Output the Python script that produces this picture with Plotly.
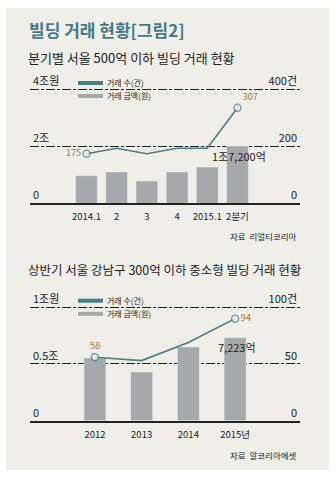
import plotly.graph_objects as go

W, H = 336, 479

# ---------------- data ----------------
cats1 = ["2014.1", "2", "3", "4", "2015.1", "2분기"]
amount1 = [0.97, 1.10, 0.78, 1.10, 1.27, 2.01]          # 조원 (left axis)
count1 = [174, 193, 174, 193, 193, 335]                 # 건 (right axis)
count1_text = ["175", "", "", "", "", "307"]
amount1_text = {0: "7,700억", 5: "1조7,200억"}

cats2 = ["2012", "2013", "2014", "2015년"]
amount2 = [0.553, 0.429, 0.650, 0.732]
count2 = [56, 53, 69, 90]
count2_text = ["58", "", "", "94"]
amount2_text = {0: "5,533억", 3: "7,223억"}

left1_vals, left1_text = [0, 2, 4], ["0", "2조", "4조원"]
right1_vals, right1_text = [0, 200, 400], ["0", "200", "400건"]
left2_vals, left2_text = [0, 0.5, 1], ["0", "0.5조", "1조원"]
right2_vals, right2_text = [0, 50, 100], ["0", "50", "100건"]

# ---------------- styles ----------------
FONT = "Noto Sans CJK KR"
BG = "#efeee9"
TEAL = "#4a7d88"
GRAY = "#a7a8ab"
GOLD = "#a0783c"
DARK = "#222222"


def X(px):
    return px / W


def Y(py):
    return 1 - py / H


fig = go.Figure()

# chart 1
fig.add_trace(go.Bar(x=cats1, y=amount1, marker_color=GRAY, width=0.72,
                     xaxis="x", yaxis="y", showlegend=False, hoverinfo="skip"))
fig.add_trace(go.Scatter(x=cats1, y=count1, mode="lines+markers+text",
                         text=count1_text,
                         textposition=["middle left"] + ["top center"] * 4 + ["top right"],
                         textfont=dict(family=FONT, size=9, color=GOLD),
                         line=dict(color=TEAL, width=1.6),
                         marker=dict(size=[7, 0, 0, 0, 0, 7], color="white",
                                     line=dict(color=TEAL, width=1.5)),
                         xaxis="x", yaxis="y2", showlegend=False, hoverinfo="skip",
                         cliponaxis=False))
# chart 2
fig.add_trace(go.Bar(x=cats2, y=amount2, marker_color=GRAY, width=0.47,
                     xaxis="x3", yaxis="y3", showlegend=False, hoverinfo="skip"))
fig.add_trace(go.Scatter(x=cats2, y=count2, mode="lines+markers+text",
                         text=count2_text,
                         textposition=["top center", "top center", "top center", "middle right"],
                         textfont=dict(family=FONT, size=9.5, color=GOLD),
                         line=dict(color=TEAL, width=1.6),
                         marker=dict(size=[7, 0, 0, 7], color="white",
                                     line=dict(color=TEAL, width=1.5)),
                         xaxis="x3", yaxis="y4", showlegend=False, hoverinfo="skip",
                         cliponaxis=False))

# geometry (pixels)
PL, PR = 30, 300
B1, T1 = 203.3, 89.3        # chart1 baseline, top grid (4)
B2, T2 = 420.7, 307.3       # chart2 baseline, top grid (1)
r1_top = 4.75
r2_top = 1.18
top1 = B1 - (B1 - T1) * r1_top / 4
top2 = B2 - (B2 - T2) * r2_top / 1

ytick_font = dict(family=FONT, size=11, color=DARK)
grid_common = dict(showgrid=True, gridcolor=DARK, gridwidth=1, griddash="9px,2px,3px,2px",
                   zeroline=False, ticks="", ticklabelposition="inside top",
                   tickfont=ytick_font, fixedrange=True)
xtick_font = dict(family=FONT, size=9.5, color=DARK)

fig.update_layout(
    width=W, height=H, margin=dict(l=0, r=0, t=0, b=0),
    paper_bgcolor="white", plot_bgcolor="rgba(0,0,0,0)",
    bargap=0.3,
    xaxis=dict(domain=[X(PL), X(PR)], range=[-1.87, 7.07], type="category",
               anchor="y", showline=True, linecolor=DARK, linewidth=1.5, ticks="",
               ticklabelstandoff=4, tickfont=xtick_font, showgrid=False),
    yaxis=dict(domain=[Y(B1), Y(top1)], range=[0, r1_top], anchor="x",
               tickvals=left1_vals, ticktext=left1_text, **grid_common),
    yaxis2=dict(domain=[Y(B1), Y(top1)], range=[0, 400 * r1_top / 4], anchor="x",
                overlaying="y", side="right", tickvals=right1_vals, ticktext=right1_text,
                showgrid=False, zeroline=False, ticks="", ticklabelposition="inside top",
                tickfont=ytick_font),
    xaxis3=dict(domain=[X(PL), X(PR)], range=[-1.39, 4.39], type="category",
                anchor="y3", showline=True, linecolor=DARK, linewidth=1.5, ticks="",
                ticklabelstandoff=4, tickfont=xtick_font, showgrid=False),
    yaxis3=dict(domain=[Y(B2), Y(top2)], range=[0, r2_top], anchor="x3",
                tickvals=left2_vals, ticktext=left2_text, **grid_common),
    yaxis4=dict(domain=[Y(B2), Y(top2)], range=[0, 100 * r2_top], anchor="x3",
                overlaying="y3", side="right", tickvals=right2_vals, ticktext=right2_text,
                showgrid=False, zeroline=False, ticks="", ticklabelposition="inside top",
                tickfont=ytick_font),
)

shapes = [dict(type="rect", xref="paper", yref="paper", x0=X(6), x1=X(329), y0=Y(470), y1=Y(8),
               fillcolor=BG, line=dict(width=0), layer="below")]
# legend swatches
for (ty, col) in [(83, TEAL), (96, GRAY), (300.7, TEAL), (313.8, GRAY)]:
    shapes.append(dict(type="rect", xref="paper", yref="paper", x0=X(78), x1=X(103),
                       y0=Y(ty + 2), y1=Y(ty - 2), fillcolor=col, line=dict(width=0)))
fig.update_layout(shapes=shapes)

ann = []
ann.append(dict(text="<b>빌딩 거래 현황[그림2]</b>", x=X(27), y=Y(30), xref="paper", yref="paper",
                xanchor="left", yanchor="middle", showarrow=False,
                font=dict(family=FONT, size=17, color="#457a86")))
ann.append(dict(text="분기별 서울 500억 이하 빌딩 거래 현황", x=X(26), y=Y(57), xref="paper", yref="paper",
                xanchor="left", yanchor="middle", showarrow=False,
                font=dict(family=FONT, size=13, color=DARK)))
ann.append(dict(text="상반기 서울 강남구 300억 이하 중소형 빌딩 거래 현황", x=X(26), y=Y(269),
                xref="paper", yref="paper", xanchor="left", yanchor="middle", showarrow=False,
                font=dict(family=FONT, size=12.5, color=DARK)))
for (ty, t) in [(83, "거래 수(건)"), (96, "거래 금액(원)"), (300.7, "거래 수(건)"), (313.8, "거래 금액(원)")]:
    ann.append(dict(text=t, x=X(105), y=Y(ty), xref="paper", yref="paper", xanchor="left",
                    yanchor="middle", showarrow=False, font=dict(family=FONT, size=8, color=DARK)))
ann.append(dict(text="자료  리얼티코리아", x=X(299), y=Y(236), xref="paper", yref="paper",
                xanchor="right", yanchor="middle", showarrow=False,
                font=dict(family=FONT, size=8.5, color=DARK)))
ann.append(dict(text="자료  알코리아에셋", x=X(299), y=Y(455), xref="paper", yref="paper",
                xanchor="right", yanchor="middle", showarrow=False,
                font=dict(family=FONT, size=8.5, color=DARK)))
# bar value labels
for i, t in amount1_text.items():
    ann.append(dict(text=t, x=cats1[i], y=amount1[i], xref="x", yref="y", showarrow=False,
                    yanchor="middle", yshift=-11 if i == 0 else -10, xshift=-1 if i == 0 else 2,
                    font=dict(family=FONT, size=11, color=DARK)))
for i, t in amount2_text.items():
    ann.append(dict(text=t, x=cats2[i], y=amount2[i], xref="x3", yref="y3", showarrow=False,
                    yanchor="middle", yshift=-14.5 if i == 0 else -9.6, xshift=0 if i == 0 else 2,
                    font=dict(family=FONT, size=11, color=DARK)))
fig.update_layout(annotations=ann)

fig.write_html("out.html")
